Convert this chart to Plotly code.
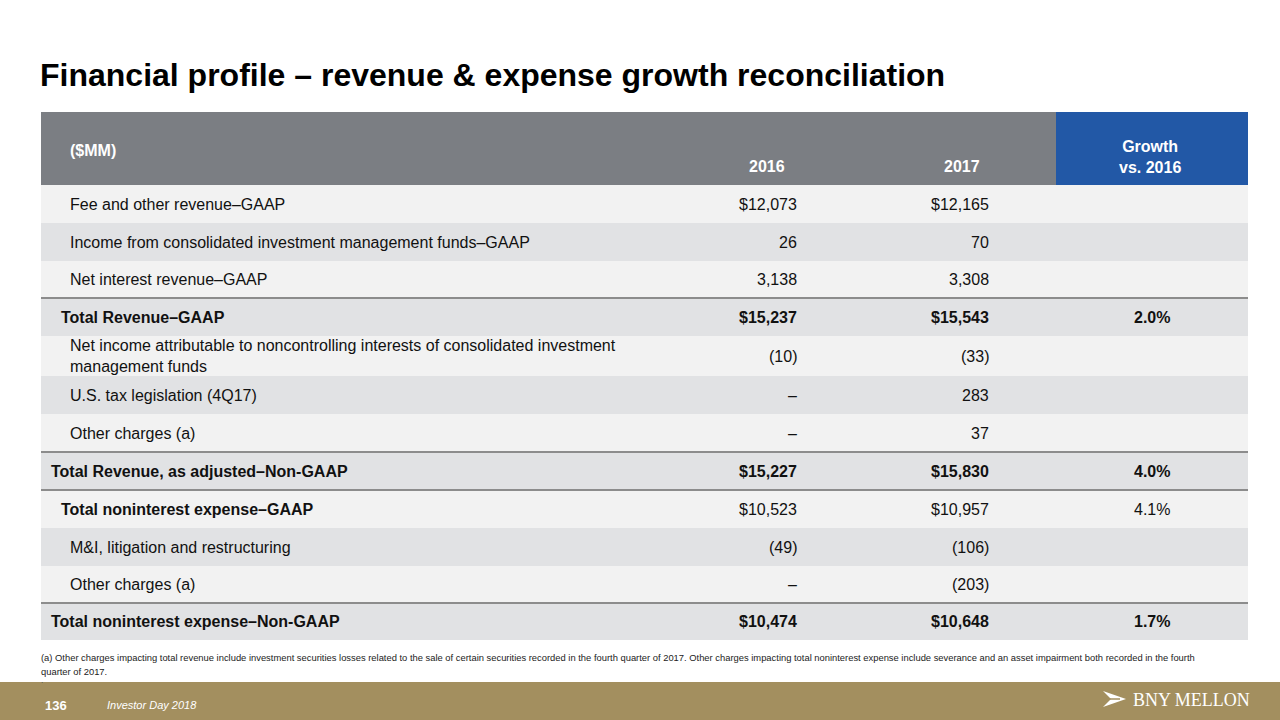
import plotly.graph_objects as go

# ---------------- data ----------------
title = "Financial profile – revenue & expense growth reconciliation"
unit_label = "($MM)"
col_headers = ["2016", "2017", "Growth<br>vs. 2016"]

labels = [
    "Fee and other revenue–GAAP",
    "Income from consolidated investment management funds–GAAP",
    "Net interest revenue–GAAP",
    "Total Revenue–GAAP",
    "Net income attributable to noncontrolling interests of consolidated investment<br>management funds",
    "U.S. tax legislation (4Q17)",
    "Other charges (a)",
    "Total Revenue, as adjusted–Non-GAAP",
    "Total noninterest expense–GAAP",
    "M&I, litigation and restructuring",
    "Other charges (a)",
    "Total noninterest expense–Non-GAAP",
]
values_2016 = [12073, 26, 3138, 15237, -10, None, None, 15227, 10523, -49, None, 10474]
values_2017 = [12165, 70, 3308, 15543, -33, 283, 37, 15830, 10957, -106, -203, 10648]
growth_pct = [None, None, None, 2.0, None, None, None, 4.0, 4.1, None, None, 1.7]

footnote_lines = [
    "(a) Other charges impacting total revenue include investment securities losses related to the sale of "
    "certain securities recorded in the fourth quarter of 2017. Other charges impacting total noninterest "
    "expense include severance and an asset impairment both recorded in the fourth",
    "quarter of 2017.",
]
page_number = "136"
event_name = "Investor Day 2018"
brand = "BNY MELLON"

# ---------------- styles / layout ----------------
FONT = "Liberation Sans, Arial, Helvetica, sans-serif"
TXT = "#111111"
HEADER_GRAY = "#7b7e83"
HEADER_BLUE = "#2258a6"
ROW_LIGHT = "#f2f2f2"
ROW_DARK = "#e1e2e4"
RULE = "#8c8c8c"
GOLD = "#a38f5f"

TABLE_X0, TABLE_X1 = 41, 1248
BLUE_X0 = 1056
HEADER_TOP, HEADER_H = 112, 73
ROW_H = [38, 38, 37, 38, 40, 38, 38, 38, 38, 38, 37, 37]
INDENT_X = {0: 51, 1: 61, 2: 70}
row_level = [2, 2, 2, 1, 2, 2, 2, 0, 1, 2, 2, 0]
label_bold = [False, False, False, True, False, False, False, True, True, False, False, True]
value_bold = [False, False, False, True, False, False, False, True, False, False, False, True]
dollar_row = [True, False, False, True, False, False, False, True, True, False, False, True]
rule_above = [False, False, False, True, False, False, False, True, True, False, False, True]
COL2016_RIGHT, COL2017_RIGHT, GROWTH_CENTER = 797, 989, 1152
FOOTNOTE_Y = [657, 671]


def fmt_val(v, dollar):
    if v is None:
        return "–"
    s = f"{abs(v):,}"
    if dollar:
        s = "$" + s
    if v < 0:
        s = f"({s})"
    return s


def b(s, on):
    return f"<b>{s}</b>" if on else s


# row geometry derived from heights
tops = []
y = HEADER_TOP + HEADER_H
for h in ROW_H:
    tops.append(y)
    y += h
centers = [t + h / 2 for t, h in zip(tops, ROW_H)]

fig = go.Figure()

# header backgrounds
fig.add_trace(go.Bar(
    orientation="h", y=[HEADER_TOP + HEADER_H / 2] * 2,
    x=[BLUE_X0 - TABLE_X0, TABLE_X1 - BLUE_X0], base=[TABLE_X0, BLUE_X0],
    width=[HEADER_H] * 2, marker=dict(color=[HEADER_GRAY, HEADER_BLUE], line=dict(width=0)),
    hoverinfo="skip", showlegend=False))

# body row backgrounds
fig.add_trace(go.Bar(
    orientation="h", y=centers, x=[TABLE_X1 - TABLE_X0] * len(labels), base=[TABLE_X0] * len(labels),
    width=ROW_H, marker=dict(color=[ROW_LIGHT if i % 2 == 0 else ROW_DARK for i in range(len(labels))],
                             line=dict(width=0)),
    hoverinfo="skip", showlegend=False))

# header text
fig.add_annotation(x=INDENT_X[2] - 2, y=150, text=f"<b>{unit_label}</b>", xanchor="left", yanchor="middle",
                   showarrow=False, font=dict(family=FONT, size=16, color="white"))
fig.add_annotation(x=787, y=166, text=f"<b>{col_headers[0]}</b>", xanchor="right", yanchor="middle",
                   showarrow=False, font=dict(family=FONT, size=16, color="white"))
fig.add_annotation(x=982, y=166, text=f"<b>{col_headers[1]}</b>", xanchor="right", yanchor="middle",
                   showarrow=False, font=dict(family=FONT, size=16, color="white"))
fig.add_annotation(x=1150, y=157, text=f"<b>{col_headers[2]}</b>", xanchor="center", yanchor="middle",
                   showarrow=False, font=dict(family=FONT, size=16, color="white"))

# body text
for i, lab in enumerate(labels):
    cy = centers[i]
    fig.add_annotation(x=INDENT_X[row_level[i]] - 2, y=cy, text=b(lab, label_bold[i]), xanchor="left",
                       yanchor="middle", align="left", showarrow=False,
                       font=dict(family=FONT, size=16, color=TXT))
    fig.add_annotation(x=COL2016_RIGHT + 2, y=cy, text=b(fmt_val(values_2016[i], dollar_row[i]), value_bold[i]),
                       xanchor="right", yanchor="middle", showarrow=False,
                       font=dict(family=FONT, size=16, color=TXT))
    fig.add_annotation(x=COL2017_RIGHT + 2, y=cy, text=b(fmt_val(values_2017[i], dollar_row[i]), value_bold[i]),
                       xanchor="right", yanchor="middle", showarrow=False,
                       font=dict(family=FONT, size=16, color=TXT))
    if growth_pct[i] is not None:
        fig.add_annotation(x=GROWTH_CENTER, y=cy, text=b(f"{growth_pct[i]:.1f}%", value_bold[i]),
                           xanchor="center", yanchor="middle", showarrow=False,
                           font=dict(family=FONT, size=16, color=TXT))
    if rule_above[i]:
        fig.add_shape(type="line", x0=TABLE_X0, x1=TABLE_X1, y0=tops[i], y1=tops[i],
                      line=dict(color=RULE, width=2), layer="above")

# footer bar
fig.add_shape(type="rect", x0=0, x1=1280, y0=682, y1=720, fillcolor=GOLD, line=dict(width=0), layer="below")

# footnote
for line, fy in zip(footnote_lines, FOOTNOTE_Y):
    fig.add_annotation(x=39, y=fy, text=line, xanchor="left", yanchor="middle", align="left", showarrow=False,
                       font=dict(family=FONT, size=9.4, color="#222222"))
fig.add_annotation(x=39, y=680, text=".", xanchor="left", yanchor="middle", showarrow=False,
                   font=dict(family=FONT, size=8, color="#444444"))

# footer texts
fig.add_annotation(x=43, y=705, text=f"<b>{page_number}</b>", xanchor="left", yanchor="middle", showarrow=False,
                   font=dict(family=FONT, size=13, color="white"))
fig.add_annotation(x=105, y=705, text=f"<i>{event_name}</i>", xanchor="left", yanchor="middle", showarrow=False,
                   font=dict(family=FONT, size=11, color="white"))
fig.add_annotation(x=1252, y=700, text=brand, xanchor="right", yanchor="middle", showarrow=False,
                   font=dict(family="Liberation Serif, Times New Roman, serif", size=18, color="white"))
# logo glyph
fig.add_shape(type="path", path="M 1103 691 L 1126 699 L 1103 707 L 1111 699 Z",
              fillcolor="white", line=dict(width=0))
fig.add_shape(type="line", x0=1104, y0=699, x1=1120, y1=699, line=dict(color=GOLD, width=1.5))

fig.update_layout(
    width=1280, height=720, autosize=False,
    margin=dict(l=0, r=0, t=0, b=0),
    paper_bgcolor="white", plot_bgcolor="white",
    barmode="overlay", bargap=0,
    showlegend=False,
    title=dict(text=f"<b>{title}</b>", x=40 / 1280, xanchor="left", xref="paper",
               y=1 - 75 / 720, yanchor="middle", font=dict(family=FONT, size=32, color="#000000")),
    xaxis=dict(range=[0, 1280], visible=False, fixedrange=True),
    yaxis=dict(range=[720, 0], visible=False, fixedrange=True),
    hovermode=False,
)

fig.write_html("out.html", config={"displayModeBar": False},
               post_script="document.body.style.margin='0';document.body.style.overflow='hidden';")
